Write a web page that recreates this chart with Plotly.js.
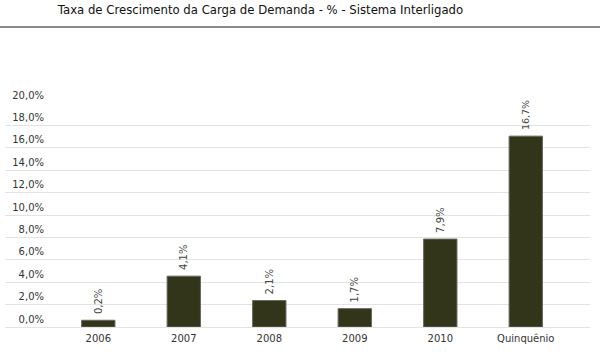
<!DOCTYPE html>
<html>
<head>
<meta charset="utf-8">
<script src="https://cdn.plot.ly/plotly-3.0.1.min.js"></script>
<style>html,body{margin:0;padding:0;background:#fff;}#chart{width:600px;height:352px;}</style>
</head>
<body>
<div id="chart"></div>
<script>
var categories = ['2006', '2007', '2008', '2009', '2010', 'Quinquênio'];
// bar heights as drawn in the reference picture (%)
var barHeights = [0.6, 4.54, 2.36, 1.64, 7.85, 17.04];
// value labels as printed above each bar
var barLabels = ['0,2%', '4,1%', '2,1%', '1,7%', '7,9%', '16,7%'];
var yTickValues = [0, 2, 4, 6, 8, 10, 12, 14, 16, 18, 20];
var yTickLabels = ['0,0%', '2,0%', '4,0%', '6,0%', '8,0%', '10,0%', '12,0%', '14,0%', '16,0%', '18,0%', '20,0%'];

var font = 'DejaVu Sans, Verdana, sans-serif';

var bars = {
  type: 'bar',
  x: categories,
  y: barHeights,
  text: barLabels,
  width: 0.39,
  marker: {color: '#33351b', line: {color: '#66685a', width: 1}},
  texttemplate: '\u00a0%{text}',
  textposition: 'outside',
  textangle: -90,
  cliponaxis: false,
  textfont: {family: font, size: 10, color: '#444'},
  hoverinfo: 'skip'
};
var labelAxisTrace = {type: 'scatter', x: [], y: [], yaxis: 'y2', xaxis: 'x', showlegend: false, hoverinfo: 'skip'};

var layout = {
  width: 600, height: 352,
  margin: {l: 5, r: 10, t: 103, b: 25},
  paper_bgcolor: '#fff', plot_bgcolor: '#fff',
  separators: ',.',
  showlegend: false,
  font: {family: font, size: 10, color: '#333'},
  title: {text: 'Taxa de Crescimento da Carga de Demanda - % - Sistema Interligado',
          font: {family: font, size: 11.7, color: '#111'},
          x: 260.5 / 600, xanchor: 'center', xref: 'container', y: 1 - 10 / 352, yanchor: 'middle', yref: 'container'},
  xaxis: {type: 'category', range: [-1.091, 5.751], showgrid: false, zeroline: false, showline: false, ticks: '',
          ticklabelstandoff: 4, tickfont: {family: font, size: 10, color: '#333'}, fixedrange: true},
  yaxis: {range: [0, 20], tickvals: yTickValues, showticklabels: false, showgrid: true, gridcolor: '#e3e3e3', gridwidth: 1,
          zeroline: true, zerolinecolor: '#e3e3e3', zerolinewidth: 1, showline: false, ticks: '', fixedrange: true},
  yaxis2: {overlaying: 'y', anchor: 'free', position: 0.0667, side: 'left', range: [0, 20],
           tickmode: 'array', tickvals: yTickValues, ticktext: yTickLabels,
           showgrid: false, zeroline: false, showline: false, ticks: '',
           ticklabelshift: -8, tickfont: {family: font, size: 10, color: '#333'}, fixedrange: true},
  shapes: [
    {type: 'line', xref: 'paper', yref: 'paper', x0: -0.02, x1: 1.02, y0: 1 + 76 / 224, y1: 1 + 76 / 224,
     line: {color: '#8a8a8a', width: 2}}
  ],
  bargap: 0.61
};

Plotly.newPlot('chart', [bars, labelAxisTrace], layout, {displayModeBar: false, staticPlot: true});
</script>
</body>
</html>
